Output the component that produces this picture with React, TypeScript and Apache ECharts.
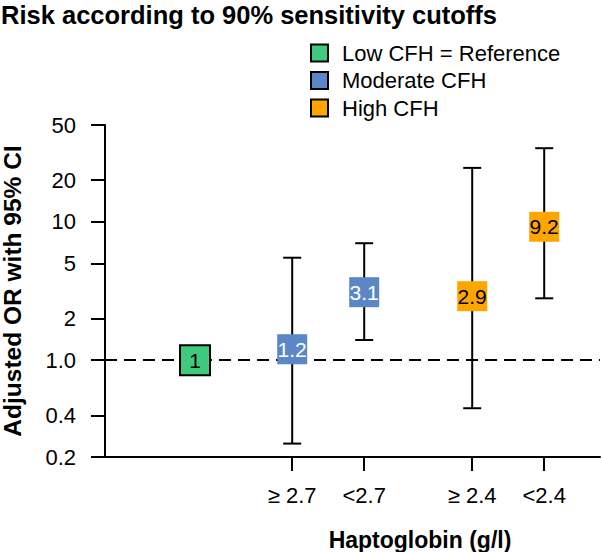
import React, { useEffect, useRef } from "react";
import * as echarts from "echarts";

const categories = ["Reference", "≥ 2.7", "<2.7", "≥ 2.4", "<2.4"];
const xPositions = [1.25, 2.6, 3.6, 5.1, 6.1];
const groups = ["Low CFH = Reference", "Moderate CFH", "Moderate CFH", "High CFH", "High CFH"];
const oddsRatios = [1, 1.2, 3.1, 2.9, 9.2];
const ciLower: (number | null)[] = [null, 0.25, 1.4, 0.45, 2.8];
const ciUpper: (number | null)[] = [null, 5.5, 7.0, 24.5, 34];
const yTickValues = [0.2, 0.4, 1, 2, 5, 10, 20, 50];
const yTickLabels = ["0.2", "0.4", "1.0", "2", "5", "10", "20", "50"];
const groupNames = ["Low CFH = Reference", "Moderate CFH", "High CFH"];
const groupColors = ["#3fca7d", "#5b87c6", "#ffa500"];
const groupLabelColors = ["#000", "#fff", "#000"];

const FONT = "'Liberation Sans', Arial, Helvetica, sans-serif";

export default function App() {
  const ref = useRef<HTMLDivElement>(null);
  useEffect(() => {
    if (!ref.current) return;
    const chart = echarts.init(ref.current, null, { renderer: "svg" });

    const errData: number[][] = [];
    xPositions.forEach((x, i) => {
      if (ciLower[i] != null && ciUpper[i] != null) errData.push([x, ciLower[i] as number, ciUpper[i] as number]);
    });

    const scatterSeries = groupNames.map((g, gi) => ({
      type: "scatter",
      name: g,
      z: 5,
      symbol: "rect",
      symbolSize: 30,
      data: xPositions.map((x, i) => (groups[i] === g ? [x, oddsRatios[i]] : null)).filter((d) => d != null),
      itemStyle: {
        color: groupColors[gi],
        opacity: 1,
        borderColor: gi === 0 ? "#000" : groupColors[gi],
        borderWidth: gi === 0 ? 2 : 0,
      },
      label: {
        show: true,
        position: "inside",
        fontFamily: FONT,
        fontSize: 21,
        color: groupLabelColors[gi],
        formatter: (p: any) => String(p.value[1]),
      },
      emphasis: { disabled: true },
    }));

    const xLabelFor = (v: number) => {
      let best = 0;
      xPositions.forEach((p, i) => {
        if (Math.abs(p - v) < Math.abs(xPositions[best] - v)) best = i;
      });
      return categories[best];
    };

    chart.setOption({
      animation: false,
      title: {
        text: "Risk according to 90% sensitivity cutoffs",
        left: 1,
        top: 2,
        padding: 0,
        textStyle: { fontFamily: FONT, fontSize: 25.5, fontWeight: "bold", color: "#000" },
      },
      legend: {
        orient: "vertical",
        left: 305,
        top: 37,
        itemGap: 5.5,
        itemWidth: 17,
        itemHeight: 17,
        icon: "rect",
        data: groupNames,
        itemStyle: { borderColor: "#000", borderWidth: 2 },
        textStyle: { fontFamily: FONT, fontSize: 22, color: "#000", padding: [0, 0, 0, 9] },
      },
      grid: { left: 105, right: 2, top: 125, bottom: 95, containLabel: false, outerBoundsMode: "none" },
      xAxis: {
        type: "value",
        min: 0,
        max: 6.875,
        splitLine: { show: false },
        axisLine: { show: true, onZero: false, lineStyle: { color: "#000", width: 2 } },
        axisTick: { show: true, length: 14, customValues: xPositions.slice(1), lineStyle: { color: "#000", width: 2 } },
        axisLabel: {
          show: true,
          customValues: xPositions.slice(1),
          margin: 27,
          fontFamily: FONT,
          fontSize: 22,
          color: "#000",
          formatter: (v: number) => xLabelFor(v),
        },
      },
      yAxis: {
        type: "log",
        logBase: 10,
        min: 0.2,
        max: 50,
        name: "Adjusted OR with 95% CI",
        nameLocation: "middle",
        nameRotate: 90,
        nameGap: 80,
        nameTextStyle: { fontFamily: FONT, fontSize: 24.5, fontWeight: "bold", color: "#000" },
        splitLine: { show: false },
        axisLine: { show: true, lineStyle: { color: "#000", width: 2 } },
        axisTick: { show: true, length: 14, customValues: yTickValues, lineStyle: { color: "#000", width: 2 } },
        axisLabel: {
          show: true,
          customValues: yTickValues,
          margin: 29,
          fontFamily: FONT,
          fontSize: 22,
          color: "#000",
          formatter: (v: number) => {
            const i = yTickValues.findIndex((t) => Math.abs(t - v) / t < 1e-6);
            return i >= 0 ? yTickLabels[i] : "";
          },
        },
      },
      graphic: [
        {
          type: "text",
          x: 420,
          y: 551,
          style: {
            text: "Haptoglobin (g/l)",
            fontFamily: FONT,
            fontSize: 23,
            fontWeight: "bold",
            fill: "#000",
            textAlign: "center",
            textVerticalAlign: "bottom",
          },
        },
      ],
      series: [
        {
          type: "custom",
          name: "CI",
          z: 2,
          data: errData,
          encode: { x: 0, y: [1, 2] },
          renderItem: (params: any, api: any) => {
            const x = api.value(0);
            const lo = api.coord([x, api.value(1)]);
            const hi = api.coord([x, api.value(2)]);
            const cap = 9;
            const st = { stroke: "#000", lineWidth: 2 };
            return {
              type: "group",
              children: [
                { type: "line", shape: { x1: lo[0], y1: lo[1], x2: hi[0], y2: hi[1] }, style: st },
                { type: "line", shape: { x1: lo[0] - cap, y1: lo[1], x2: lo[0] + cap, y2: lo[1] }, style: st },
                { type: "line", shape: { x1: hi[0] - cap, y1: hi[1], x2: hi[0] + cap, y2: hi[1] }, style: st },
              ],
            };
          },
          markLine: {
            silent: true,
            symbol: "none",
            label: { show: false },
            lineStyle: { color: "#000", type: [12, 7], width: 2 },
            data: [{ yAxis: 1 }],
          },
        },
        ...scatterSeries,
      ],
    } as any);
    return () => chart.dispose();
  }, []);
  return <div ref={ref} style={{ position: "fixed", left: 0, top: 0, width: 602, height: 552, background: "#fff" }} />;
}
